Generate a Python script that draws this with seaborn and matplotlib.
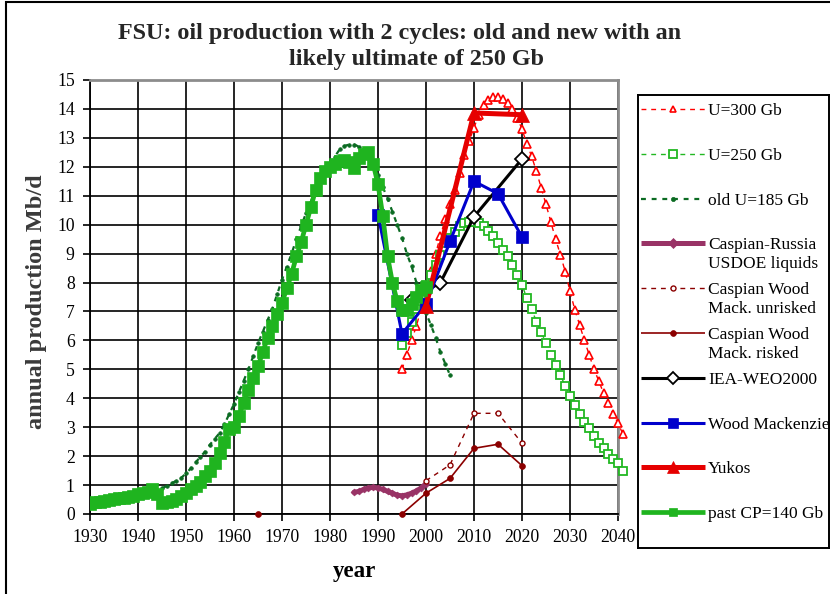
import matplotlib
matplotlib.use("Agg")
import matplotlib.pyplot as plt
import seaborn as sns
from matplotlib.patches import Rectangle

# ---------------- data ----------------
past_years = list(range(1930, 2001))
past_vals = [0.35, 0.40, 0.43, 0.45, 0.50, 0.52, 0.55, 0.57, 0.60, 0.63,   # 1930s
             0.68, 0.72, 0.75, 0.85, 0.70, 0.38, 0.42, 0.46, 0.52, 0.62,   # 1940s
             0.72, 0.85, 0.98, 1.12, 1.30, 1.50, 1.75, 2.10, 2.50, 2.95,   # 1950s
             3.00, 3.40, 3.85, 4.30, 4.70, 5.10, 5.60, 6.10, 6.50, 6.90,   # 1960s
             7.30, 7.80, 8.30, 8.90, 9.40, 10.0, 10.6, 11.2, 11.6, 11.85,  # 1970s
             12.0, 12.1, 12.2, 12.25, 12.15, 11.95, 12.3, 12.45, 12.5, 12.1,  # 1980s
             11.4, 10.3, 8.90, 8.00, 7.35, 7.06, 7.06, 7.25, 7.50, 7.75,   # 1990s
             7.85]                                                         # 2000

old_years = list(range(1945, 2006))
old_vals = [0.89, 0.97, 1.06, 1.15, 1.25,                                  # 1945-49
            1.40, 1.58, 1.78, 1.98, 2.16, 2.40, 2.60, 2.80, 3.10, 3.45,    # 1950s
            3.80, 4.20, 4.60, 5.00, 5.45, 5.90, 6.30, 6.70, 7.10, 7.60,    # 1960s
            8.10, 8.55, 9.00, 9.50, 9.95, 10.4, 10.8, 11.2, 11.55, 11.85,  # 1970s
            12.1, 12.35, 12.6, 12.72, 12.77, 12.77, 12.7, 12.55, 12.35, 12.05,  # 1980s
            11.7, 11.3, 10.9, 10.45, 10.0, 9.55, 9.00, 8.56, 8.00, 7.45,   # 1990s
            6.95, 6.54, 6.10, 5.60, 5.20, 4.80]                            # 2000-05

u300_years = list(range(1995, 2042))
u300_vals = [5.0, 5.5, 6.0, 6.5, 7.1,                                      # 1995-99
             7.7, 8.4, 9.0, 9.6, 10.2, 10.7, 11.2, 11.8, 12.4, 12.9,       # 2000s
             13.35, 13.8, 14.15, 14.3, 14.4, 14.42, 14.35, 14.2, 14.0, 13.7,  # 2010s
             13.3, 12.8, 12.36, 11.85, 11.27, 10.7, 10.1, 9.5, 8.96, 8.38,  # 2020s
             7.7, 7.06, 6.54, 6.0, 5.5, 5.0, 4.6, 4.17, 3.83, 3.46,        # 2030s
             3.14, 2.77]                                                   # 2040-41

u250_years = list(range(1995, 2042))
u250_vals = [5.85, 6.25, 6.65, 7.1, 7.5,                                   # 1995-99
             7.9, 8.27, 8.6, 8.96, 9.37, 9.55, 9.75, 9.94, 10.06, 10.1,    # 2000s
             10.1, 10.06, 9.94, 9.77, 9.6, 9.37, 9.13, 8.9, 8.6, 8.27,     # 2010s
             7.92, 7.46, 7.08, 6.65, 6.3, 5.9, 5.5, 5.16, 4.8, 4.43,       # 2020s
             4.08, 3.77, 3.46, 3.19, 2.96, 2.7, 2.45, 2.27, 2.08, 1.89,    # 2030s
             1.75, 1.5]                                                    # 2040-41

caspru_years = list(range(1985, 2001))
caspru_vals = [0.75, 0.78, 0.85, 0.90, 0.92, 0.90, 0.85, 0.78,
               0.72, 0.65, 0.63, 0.66, 0.72, 0.80, 0.90, 1.05]

unrisked_years = [2000, 2005, 2010, 2015, 2020]
unrisked_vals = [1.15, 1.70, 3.48, 3.48, 2.45]

risked_early_years = [1965]
risked_early_vals = [0.0]
risked_years = [1995, 2000, 2005, 2010, 2015, 2020]
risked_vals = [0.0, 0.72, 1.23, 2.27, 2.41, 1.67]

iea_years = [1997, 2003, 2010, 2020]
iea_vals = [7.4, 8.0, 10.27, 12.27]

wm_years = [1990, 1995, 2000, 2005, 2010, 2015, 2020]
wm_vals = [10.35, 6.23, 7.25, 9.42, 11.5, 11.07, 9.57]

yukos_years = [2000, 2010, 2020]
yukos_vals = [7.2, 13.86, 13.8]

x_ticks = list(range(1930, 2041, 10))
y_ticks = list(range(0, 16))

title_line1 = "FSU: oil production with 2 cycles: old and new with an"
title_line2 = "likely ultimate of 250 Gb"
x_label = "year"
y_label = "annual production Mb/d"

labels = ["U=300 Gb", "U=250 Gb", "old U=185 Gb",
          "Caspian-Russia\nUSDOE liquids", "Caspian Wood\nMack. unrisked",
          "Caspian Wood\nMack. risked", "IEA-WEO2000", "Wood Mackenzie",
          "Yukos", "past CP=140 Gb"]

# ---------------- styles ----------------
RED = "#ff0000"
GREEN = "#22b822"
DKGREEN = "#0b6b22"
PURPLE = "#993366"
DKRED = "#8b0000"
BLUE = "#0000cc"

styles = [
    dict(color=RED, lw=1.0, ls=(0, (3.5, 3.5)), marker="^", ms=6.0, mfc="white", mec=RED, mew=1.2, lms=5),
    dict(color=GREEN, lw=1.0, ls=(0, (3.5, 3.5)), marker="s", ms=6.0, mfc="white", mec=GREEN, mew=1.3, lms=6),
    dict(color=DKGREEN, lw=1.6, ls=(0, (2.2, 2.6)), marker="o", ms=2.6, mfc=DKGREEN, mec=DKGREEN, mew=0.5, lms=3),
    dict(color=PURPLE, lw=3.6, ls="-", marker="D", ms=3.5, mfc=PURPLE, mec=PURPLE, mew=0.5, lms=5),
    dict(color=DKRED, lw=1.0, ls=(0, (3.5, 3.5)), marker="o", ms=3.6, mfc="white", mec=DKRED, mew=1.0, lms=3.6),
    dict(color=DKRED, lw=1.2, ls="-", marker="o", ms=4.2, mfc=DKRED, mec=DKRED, mew=0.5, lms=4.2),
    dict(color="black", lw=2.2, ls="-", marker="D", ms=7.0, mfc="white", mec="black", mew=1.3, lms=6.5),
    dict(color=BLUE, lw=2.2, ls="-", marker="s", ms=8.5, mfc=BLUE, mec=BLUE, mew=0.5, lms=6.5),
    dict(color="#e60000", lw=3.6, ls="-", marker="^", ms=10.5, mfc="#e60000", mec="#e60000", mew=0.5, lms=9),
    dict(color="#1fb41f", lw=3.4, ls="-", marker="s", ms=8.0, mfc="#1fb41f", mec="#1fb41f", mew=0.5, lms=6),
]

series = [
    [(u300_years, u300_vals, dict(clip_on=False))],
    [(u250_years, u250_vals, dict(clip_on=False))],
    [(old_years, old_vals, {})],
    [(caspru_years, caspru_vals, {})],
    [(unrisked_years, unrisked_vals, {})],
    [(risked_early_years, risked_early_vals, dict(clip_on=False)),
     (risked_years, risked_vals, dict(clip_on=False))],
    [(iea_years, iea_vals, {})],
    [(wm_years, wm_vals, {})],
    [(yukos_years, yukos_vals, {})],
    [(past_years, past_vals, {})],
]

# ---------------- figure ----------------
sns.set_theme(style="white")
plt.rcParams["font.family"] = ["Liberation Serif", "DejaVu Serif"]

W, H = 830, 594
fig = plt.figure(figsize=(W / 100, H / 100), dpi=100)
fig.patch.set_facecolor("white")

# plot area (pixel layout of the reference)
L, R, T, B = 90, 618, 80, 514
ax = fig.add_axes([L / W, (H - B) / H, (R - L) / W, (B - T) / H])
ax.set_facecolor("white")

for k, (st, parts) in enumerate(zip(styles, series)):
    for xs, ys, extra in parts:
        sns.lineplot(x=xs, y=ys, ax=ax, color=st["color"], linewidth=st["lw"],
                     linestyle=st["ls"], marker=st["marker"], markersize=st["ms"],
                     markerfacecolor=st["mfc"], markeredgecolor=st["mec"],
                     markeredgewidth=st["mew"], zorder=3 + k, legend=False,
                     errorbar=None, **extra)

ax.set_xlim(1930, 2040)
ax.set_ylim(0, 15)
ax.set_xticks(x_ticks)
ax.set_yticks(y_ticks)
ax.grid(True, color="black", linewidth=1.2)
ax.set_axisbelow(True)
for side in ("left", "bottom"):
    ax.spines[side].set_color("black")
    ax.spines[side].set_linewidth(1.3)
for side in ("top", "right"):
    ax.spines[side].set_color("#8c8c8c")
    ax.spines[side].set_linewidth(2.0)
ax.tick_params(axis="both", which="major", bottom=True, left=True,
               direction="out", length=5, width=1.2, color="black",
               labelsize=12.7, labelcolor="black")
ax.tick_params(axis="y", pad=6)
ax.tick_params(axis="x", pad=6)

ax.set_xlabel(x_label, fontsize=16.5, fontweight="bold", color="black")
ax.xaxis.set_label_coords(0.5, -0.108)
ax.set_ylabel(y_label, fontsize=17.5, fontweight="bold", color="#3a3a3a")
ax.yaxis.set_label_coords(-0.082, 0.49)

fig.text(400 / W, 1 - 33 / H, title_line1, ha="center", va="center",
         fontsize=17.4, fontweight="bold")
fig.text(416 / W, 1 - 60 / H, title_line2, ha="center", va="center",
         fontsize=17.4, fontweight="bold")

# outer chart border
fig.patches.append(Rectangle((6 / W, -0.1), 1.2, 1.1 - 2 / H, fill=False,
                             edgecolor="black", linewidth=1.5,
                             transform=fig.transFigure, zorder=0))

# ---------------- legend box ----------------
LX0, LX1, LY0, LY1 = 638, 829, 95, 548
lax = fig.add_axes([LX0 / W, (H - LY1) / H, (LX1 - LX0) / W, (LY1 - LY0) / H])
lax.set_xlim(LX0, LX1)
lax.set_ylim(LY1, LY0)
lax.set_xticks([])
lax.set_yticks([])
lax.set_facecolor("white")
for sp in lax.spines.values():
    sp.set_color("black")
    sp.set_linewidth(1.4)

first_y, step = 109, 44.8
h0, h1, hm, tx = 641, 705, 673, 708
for i, (lab, st) in enumerate(zip(labels, styles)):
    yc = first_y + i * step
    lax.plot([h0, h1], [yc, yc], color=st["color"], lw=st["lw"], ls=st["ls"],
             solid_capstyle="butt")
    lax.plot([hm], [yc], marker=st["marker"], ms=st["lms"], mfc=st["mfc"],
             mec=st["mec"], mew=st["mew"], ls="none")
    for j, line in enumerate(lab.split("\n")):
        lax.text(tx, yc + j * 19, line, va="center_baseline", ha="left",
                 fontsize=12.5, color="black", clip_on=False)

fig.savefig("out.png", dpi=100)
